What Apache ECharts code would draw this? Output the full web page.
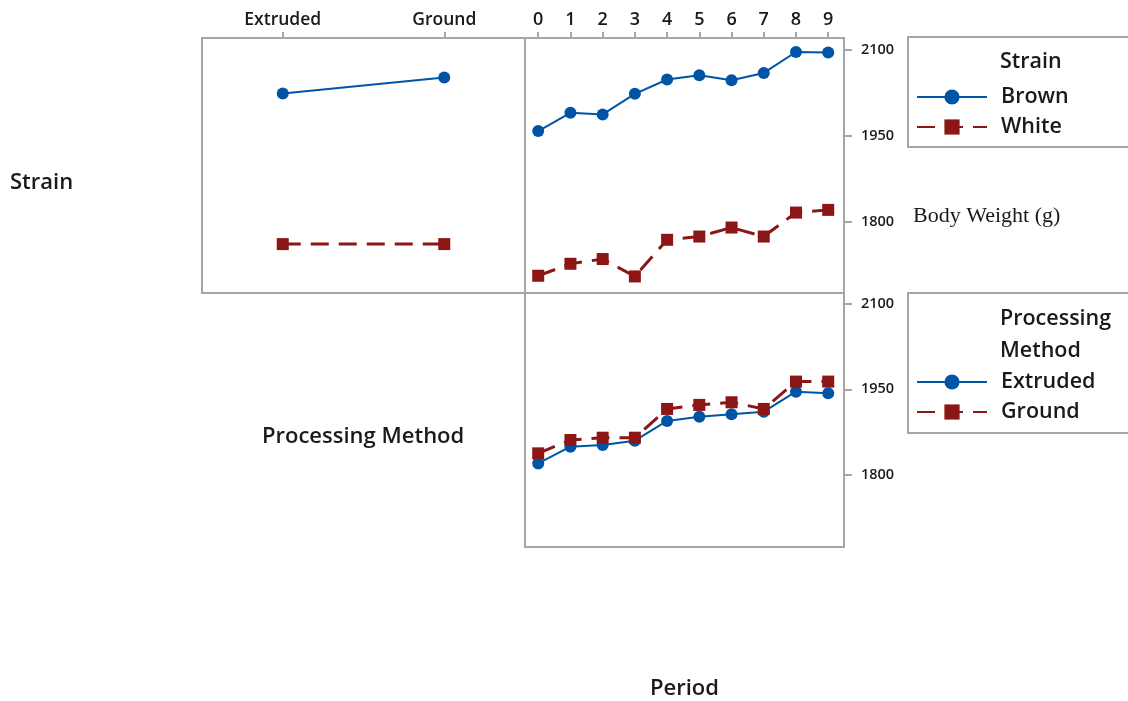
<!DOCTYPE html>
<html>
<head>
<meta charset="utf-8">
<script src="https://cdn.jsdelivr.net/npm/echarts@6/dist/echarts.min.js"></script>
<style>
  html, body { margin: 0; padding: 0; background: #fff; }
  #chart { width: 1128px; height: 701px; }
</style>
</head>
<body>
<div id="chart"></div>
<script>
// Interaction plot of mean body weight (g)
const methods = ['Extruded', 'Ground'];
const periods = [0, 1, 2, 3, 4, 5, 6, 7, 8, 9];
const weightTicks = [1800, 1950, 2100];

// Strain x Processing Method
const brownByMethod = [2023.5, 2051.3];
const whiteByMethod = [1760.7, 1760.7];

// Strain x Period
const brownByPeriod = [1957.9, 1989.7, 1986.9, 2022.8, 2047.8, 2055.3, 2046.6, 2059.3, 2095.8, 2094.8];
const whiteByPeriod = [1705.5, 1726.4, 1734.6, 1704.3, 1768.2, 1773.9, 1789.6, 1773.9, 1815.7, 1820.4];

// Processing Method x Period
const extrudedByPeriod = [1819.4, 1848.8, 1851.8, 1859.4, 1894.2, 1901.8, 1906.0, 1910.6, 1945.9, 1943.1];
const groundByPeriod = [1837.1, 1860.6, 1864.7, 1864.7, 1915.4, 1922.5, 1927.2, 1915.4, 1963.6, 1963.6];

const BLUE = '#0054a6';
const RED = '#8c1515';
const GRAY = '#a6a6a6';
const INK = '#1a1a1a';
const FONT = "'Open Sans', 'Noto Sans', sans-serif";

const pairs = (vals) => vals.map((v, i) => [periods[i], v]);

const solidStyle = { color: BLUE, width: 2, type: 'solid' };
const dashStyle = { color: RED, width: 3, type: [18, 10] };

const gridBase = { show: true, borderColor: GRAY, borderWidth: 2, backgroundColor: 'transparent', containLabel: false };

const weightAxis = (gridIndex, min, max) => ({
  gridIndex, type: 'value', position: 'right', min, max,
  axisLine: { show: false, onZero: false },
  axisTick: { show: true, customValues: weightTicks, length: 8, lineStyle: { color: GRAY, width: 2 } },
  axisLabel: {
    customValues: weightTicks, margin: 17, fontSize: 14.5, fontWeight: 600, color: INK, fontFamily: FONT,
    formatter: (v) => String(v)
  },
  splitLine: { show: false }
});

const labelText = (size) => ({ fontSize: size, fontWeight: 600, color: INK, fontFamily: FONT });

const chart = echarts.init(document.getElementById('chart'), null, { renderer: 'canvas' });

const option = {
  backgroundColor: '#fff',
  animation: false,
  textStyle: { fontFamily: FONT },
  grid: [
    Object.assign({ left: 202, top: 38, width: 323, height: 255 }, gridBase),
    Object.assign({ left: 525, top: 38, width: 319, height: 255 }, gridBase),
    Object.assign({ left: 525, top: 293, width: 319, height: 254 }, gridBase)
  ],
  xAxis: [
    {
      gridIndex: 0, type: 'category', position: 'top', data: methods, boundaryGap: true,
      axisLine: { show: false, onZero: false },
      axisTick: { show: true, alignWithLabel: true, length: 6, lineStyle: { color: GRAY, width: 2 } },
      axisLabel: Object.assign({ margin: 9 }, labelText(17.5)),
      splitLine: { show: false }
    },
    {
      gridIndex: 1, type: 'value', position: 'top', min: -0.41, max: 9.49,
      axisLine: { show: false, onZero: false },
      axisTick: { show: true, customValues: periods, length: 6, lineStyle: { color: GRAY, width: 2 } },
      axisLabel: Object.assign({ customValues: periods, margin: 9 }, labelText(18)),
      splitLine: { show: false }
    },
    {
      gridIndex: 2, type: 'value', min: -0.41, max: 9.49,
      axisLine: { show: false, onZero: false }, axisTick: { show: false }, axisLabel: { show: false },
      splitLine: { show: false }
    }
  ],
  yAxis: [
    {
      gridIndex: 0, type: 'value', min: 1675.4, max: 2120.2,
      axisLine: { show: false, onZero: false }, axisTick: { show: false }, axisLabel: { show: false },
      splitLine: { show: false }
    },
    weightAxis(1, 1675.4, 2120.2),
    weightAxis(2, 1672, 2119.8)
  ],
  legend: [
    {
      data: ['Brown', 'White'], orient: 'vertical', left: 916, top: 86, padding: 0,
      itemWidth: 70, itemHeight: 19, itemGap: 8, selectedMode: false,
      textStyle: Object.assign({ padding: [0, 0, 0, 9] }, labelText(21.5))
    },
    {
      data: ['Extruded', 'Ground'], orient: 'vertical', left: 916, top: 371, padding: 0,
      itemWidth: 70, itemHeight: 19, itemGap: 8, selectedMode: false,
      textStyle: Object.assign({ padding: [0, 0, 0, 9] }, labelText(21.5))
    }
  ],
  title: [
    { text: 'Strain', left: 1000, top: 51, padding: 0, textStyle: labelText(21.5) },
    { text: 'Processing\nMethod', left: 1000, top: 303, padding: 0, textStyle: Object.assign({ lineHeight: 32 }, labelText(21.5)) },
    { text: 'Strain', left: 10, top: 172, padding: 0, textStyle: labelText(22) },
    { text: 'Processing Method', left: 262, top: 426, padding: 0, textStyle: labelText(22) },
    { text: 'Period', left: 650, top: 678, padding: 0, textStyle: labelText(22) },
    { text: 'Body Weight (g)', left: 913, top: 205, padding: 0, textStyle: { fontSize: 22, fontWeight: 'normal', color: INK, fontFamily: "'Liberation Serif', 'DejaVu Serif', serif" } }
  ],
  graphic: [
    { type: 'rect', shape: { x: 908, y: 37, width: 240, height: 110 }, style: { fill: 'none', stroke: GRAY, lineWidth: 2 }, silent: true },
    { type: 'rect', shape: { x: 908, y: 293, width: 240, height: 140 }, style: { fill: 'none', stroke: GRAY, lineWidth: 2 }, silent: true }
  ],
  series: [
    {
      name: 'Brown', type: 'line', xAxisIndex: 0, yAxisIndex: 0, data: brownByMethod,
      symbol: 'circle', symbolSize: 12, itemStyle: { color: BLUE }, lineStyle: solidStyle, z: 3
    },
    {
      name: 'White', type: 'line', xAxisIndex: 0, yAxisIndex: 0, data: whiteByMethod,
      symbol: 'rect', symbolSize: 12, itemStyle: { color: RED }, lineStyle: dashStyle, z: 4
    },
    {
      name: 'Brown', type: 'line', xAxisIndex: 1, yAxisIndex: 1, data: pairs(brownByPeriod),
      symbol: 'circle', symbolSize: 12, itemStyle: { color: BLUE }, lineStyle: solidStyle, z: 3
    },
    {
      name: 'White', type: 'line', xAxisIndex: 1, yAxisIndex: 1, data: pairs(whiteByPeriod),
      symbol: 'rect', symbolSize: 12, itemStyle: { color: RED }, lineStyle: dashStyle, z: 4
    },
    {
      name: 'Extruded', type: 'line', xAxisIndex: 2, yAxisIndex: 2, data: pairs(extrudedByPeriod),
      symbol: 'circle', symbolSize: 12, itemStyle: { color: BLUE }, lineStyle: solidStyle, z: 3
    },
    {
      name: 'Ground', type: 'line', xAxisIndex: 2, yAxisIndex: 2, data: pairs(groundByPeriod),
      symbol: 'rect', symbolSize: 12, itemStyle: { color: RED }, lineStyle: dashStyle, z: 4
    }
  ]
};

chart.setOption(option);
</script>
</body>
</html>
